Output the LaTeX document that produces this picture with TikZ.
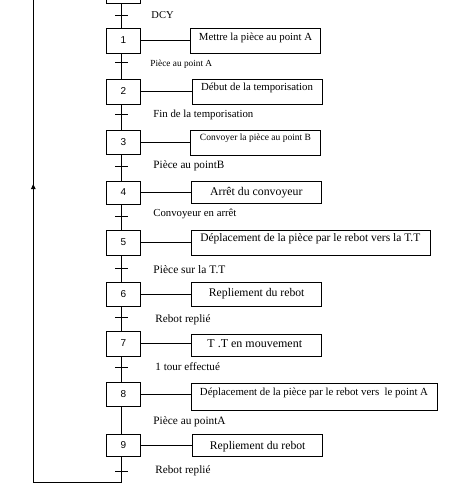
\documentclass[tikz,border=0pt]{standalone}
\usepackage{fontspec}
\setmainfont{Liberation Serif}
\newfontfamily\numfont{Liberation Sans}
\usetikzlibrary{arrows.meta}
\begin{document}
\begin{tikzpicture}[x=1pt,y=-1pt,line width=0.9pt,
  stepbox/.style={draw,minimum width=34pt,minimum height=24pt,inner sep=0pt,font=\numfont\fontsize{10}{11}\selectfont},
  actbox/.style={draw,inner sep=0pt},
  acttext/.style={inner sep=0pt,text height=1.5ex,text depth=0.25ex},
  trlabel/.style={anchor=west,inner sep=0pt,text height=1.5ex,text depth=0.25ex},
  tick/.style={line width=0.9pt}]
\useasboundingbox (0,0) rectangle (454,494);
\clip (0,0) rectangle (454,494);
% steps
\node[stepbox,minimum height=20pt] (s0) at (123.5,-7) {};
\node[stepbox,minimum height=25pt] (s1) at (123.5,40.5) {1};
\node[stepbox,minimum height=25pt] (s2) at (123.5,91.5) {2};
\node[stepbox,minimum height=24pt] (s3) at (123.5,142) {3};
\node[stepbox,minimum height=23pt] (s4) at (123.5,192.5) {4};
\node[stepbox,minimum height=25pt] (s5) at (123.5,242.5) {5};
\node[stepbox,minimum height=24pt] (s6) at (123.5,294) {6};
\node[stepbox,minimum height=25pt] (s7) at (123.5,343.5) {7};
\node[stepbox,minimum height=24pt] (s8) at (123.5,394) {8};
\node[stepbox,minimum height=22pt] (s9) at (123.5,445) {9};
\coordinate (bot) at (121.3,482);
\coordinate (left) at (33.3,482);
\coordinate (lefttop) at (33.3,-20);
% action boxes
\node[actbox,minimum width=130pt,minimum height=25pt] (a1) at (255,40.5) {};
\node[actbox,minimum width=130pt,minimum height=25pt] (a2) at (257,91.5) {};
\node[actbox,minimum width=130pt,minimum height=25pt] (a3) at (255,142.5) {};
\node[actbox,minimum width=130pt,minimum height=22pt] (a4) at (256,192) {};
\node[actbox,minimum width=239pt,minimum height=25pt] (a5) at (310.5,242.5) {};
\node[actbox,minimum width=130pt,minimum height=24pt] (a6) at (256,294) {};
\node[actbox,minimum width=130pt,minimum height=22pt] (a7) at (256,345) {};
\node[actbox,minimum width=246pt,minimum height=27pt] (a8) at (314,396.5) {};
\node[actbox,minimum width=130pt,minimum height=22pt] (a9) at (257,445) {};
% action texts
\node[acttext,font=\fontsize{10.8}{12}\selectfont] (t1) at (255.5,37.5) {Mettre la pièce au point A};
\node[acttext,font=\fontsize{10.8}{12}\selectfont] (t2) at (257,88) {Début de la temporisation};
\node[acttext,font=\fontsize{9.5}{11}\selectfont] (t3) at (255.5,138) {Convoyer la pièce au point B};
\node[acttext,font=\fontsize{11.8}{13}\selectfont] (t4) at (256.3,192.5) {Arrêt du convoyeur};
\node[acttext,font=\fontsize{11.5}{13}\selectfont] (t5) at (310.3,239) {Déplacement de la pièce par le rebot vers la T.T};
\node[acttext,font=\fontsize{11.7}{13}\selectfont] (t6) at (256.7,293.5) {Repliement du rebot};
\node[acttext,font=\fontsize{12}{13}\selectfont] (t7) at (254.8,345) {T .T en mouvement};
\node[acttext,font=\fontsize{10.85}{12}\selectfont] (t8) at (314,392.5) {Déplacement de la pièce par le rebot vers\ \ le point A};
\node[acttext,font=\fontsize{11.7}{13}\selectfont] (t9) at (257.7,446.5) {Repliement du rebot};
% step-action links
\foreach \i in {1,...,9} {\draw (s\i.east) -- (s\i.east -| a\i.west);}
% vertical links
\draw ([xshift=-2.2pt]s0.south) -- ([xshift=-2.2pt]s1.north);
\draw ([xshift=-2.2pt]s1.south) -- ([xshift=-2.2pt]s2.north);
\draw ([xshift=-2.2pt]s2.south) -- ([xshift=-2.2pt]s3.north);
\draw ([xshift=-2.2pt]s3.south) -- ([xshift=-2.2pt]s4.north);
\draw ([xshift=-2.2pt]s4.south) -- ([xshift=-2.2pt]s5.north);
\draw ([xshift=-2.2pt]s5.south) -- ([xshift=-2.2pt]s6.north);
\draw ([xshift=-2.2pt]s6.south) -- ([xshift=-2.2pt]s7.north);
\draw ([xshift=-2.2pt]s7.south) -- ([xshift=-2.2pt]s8.north);
\draw ([xshift=-2.2pt]s8.south) -- ([xshift=-2.2pt]s9.north);
\draw ([xshift=-2.2pt]s9.south) -- (bot) -- (left) -- (lefttop);
\draw[-{Triangle[length=5pt,width=4.5pt]}] (left) -- (33.3,184);
% transition ticks
\foreach \y in {15,62,114,166,216,268,317,367,471.5} {\draw[tick] (115,\y) -- (128,\y);}
% transition labels
\node[trlabel,font=\fontsize{10.5}{12}\selectfont] (c0) at (151,15.5) {DCY};
\node[trlabel,font=\fontsize{9.3}{11}\selectfont] (c1) at (150,63.5) {Pièce au point A};
\node[trlabel,font=\fontsize{10.8}{12}\selectfont] (c2) at (153,114.5) {Fin de la temporisation};
\node[trlabel,font=\fontsize{11.2}{12}\selectfont] (c3) at (153,165.5) {Pièce au pointB};
\node[trlabel,font=\fontsize{10.75}{12}\selectfont] (c4) at (153,213.5) {Convoyeur en arrêt};
\node[trlabel,font=\fontsize{11.5}{12}\selectfont] (c5) at (153,270.5) {Pièce sur la T.T};
\node[trlabel,font=\fontsize{11.2}{12}\selectfont] (c6) at (155,319.5) {Rebot replié};
\node[trlabel,font=\fontsize{11.1}{12}\selectfont] (c7) at (155,367.5) {1 tour effectué};
\node[trlabel,font=\fontsize{11.3}{12}\selectfont] (c8) at (153,421.5) {Pièce au pointA};
\node[trlabel,font=\fontsize{11.2}{12}\selectfont] (c9) at (155,470.5) {Rebot replié};
\end{tikzpicture}
\end{document}
